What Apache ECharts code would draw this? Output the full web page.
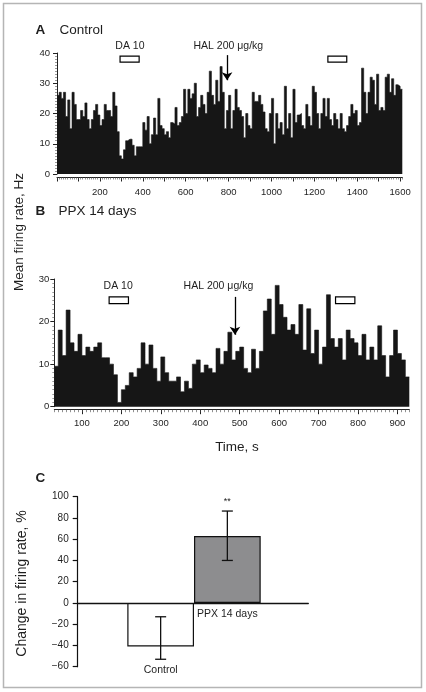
<!DOCTYPE html>
<html><head><meta charset="utf-8">
<script src="https://cdn.jsdelivr.net/npm/echarts@6/dist/echarts.min.js"></script>
<style>html,body{margin:0;padding:0;background:#fff}#c{width:426px;height:692px}</style>
</head><body><div id="c"></div>
<script>
// ---------- Panel A: Control (10 s bins) ----------
const timesA = [
0,10,20,30,40,50,60,70,80,90,
100,110,120,130,140,150,160,170,180,190,
200,210,220,230,240,250,260,270,280,290,
300,310,320,330,340,350,360,370,380,390,
400,410,420,430,440,450,460,470,480,490,
500,510,520,530,540,550,560,570,580,590,
600,610,620,630,640,650,660,670,680,690,
700,710,720,730,740,750,760,770,780,790,
800,810,820,830,840,850,860,870,880,890,
900,910,920,930,940,950,960,970,980,990,
1000,1010,1020,1030,1040,1050,1060,1070,1080,1090,
1100,1110,1120,1130,1140,1150,1160,1170,1180,1190,
1200,1210,1220,1230,1240,1250,1260,1270,1280,1290,
1300,1310,1320,1330,1340,1350,1360,1370,1380,1390,
1400,1410,1420,1430,1440,1450,1460,1470,1480,1490,
1500,1510,1520,1530,1540,1550,1560,1570,1580,1590,
1600];
const valuesA = [
26,27,25,27,19,24.5,15,27,23,18,
18,21,19,23.5,18,15,18,21,23,19.5,
16,18,23,21,21,19,27,22.5,14,6,
5,8,11,11.5,11.5,9.5,6,9,9,9,
17,14.5,19,10,13,18.5,13,25,16,15,
13,14,12,17,16.5,22,16,17,19,28,
20,28,25,26.5,30,19,22,26,23,20,
27,34,26,23,31,24,35.5,27,15,21,
26,15,21,28,22,21,19,12,20,16,
15,27,24,24,26,23,20.5,15,14,20,
25,10,20,15,17,13,29,15,20,12,
28,17,19.5,20,16,15,23,19,16,29,
27,20,15,20,25,19,25,18,16,20,
18,15,20,15,14,16,19,23,20,21,
16,17,35,27,20,27,32,31,23,33,
21,22,21,32,33,27,31.5,26,29.5,29,
28];
const tickMarksA = [0,100,200,300,400,500,600,700,800,900,1000,1100,1200,1300,1400,1500,1600];
const tickLabelsA = [200,400,600,800,1000,1200,1400,1600];

// ---------- Panel B: PPX 14 days (10 s bins) ----------
const timesB = [
30,40,50,60,70,80,90,100,110,120,
130,140,150,160,170,180,190,200,210,220,
230,240,250,260,270,280,290,300,310,320,
330,340,350,360,370,380,390,400,410,420,
430,440,450,460,470,480,490,500,510,520,
530,540,550,560,570,580,590,600,610,620,
630,640,650,660,670,680,690,700,710,720,
730,740,750,760,770,780,790,800,810,820,
830,840,850,860,870,880,890,900,910,920];
const valuesB = [
9.5,18,12,22.7,15,13,17,12,14,13,
14,15,11.5,11.5,10,7.5,1,4,5,8,
7,9,15,10,14.5,9,6,11.7,8,6,
6,7,3.5,6,4.3,10,11,8,9.8,9,
8,13.7,10,13,17.5,11,13,14,9,8,
13.5,9,13,22.5,25.3,17,28.5,24,21,18,
19.3,17,24,13.3,23,12.5,18,10,14,26.3,
16,14,16,11,18,16,15,12,17,11,
14,11,19,12,7,12,18,12.5,11,7];
const tickLabelsB = [100,200,300,400,500,600,700,800,900];

// ---------- Panel C ----------
const groupsC = ['Control', 'PPX 14 days'];
const meansC = [-41, 63];
const errLowC = [-53, 40];
const errHighC = [-13, 86.5];
const sigC = ['', '**'];

// event annotations (seconds)
const daA = [[294, 383], [1263, 1351]];
const halA = 793;
const daB = [[169, 218], [743, 792]];
const halB = 488;

const FONT = '"Liberation Sans", Arial, Helvetica, sans-serif';
const INK = '#161616';
const TXT = '#1e1e1e';

function stepData(times, vals) {
  const d = times.map((t, i) => [t, vals[i]]);
  const w = times[1] - times[0];
  d.push([times[times.length - 1] + w, vals[vals.length - 1]]);
  return d;
}
function edges(times) {
  const w = times[1] - times[0];
  return times.concat([times[times.length - 1] + w]);
}
const txt = (extra) => Object.assign({fontFamily: FONT, color: TXT}, extra);

function histSeries(xi, yi, data, boxes, hal, boxY, arrowY) {
  return {
    type: 'line', xAxisIndex: xi, yAxisIndex: yi, step: 'end', data: data,
    symbol: 'none', clip: false, silent: true,
    lineStyle: {color: INK, width: 0.6},
    areaStyle: {color: INK, opacity: 1},
    markArea: {
      silent: true, label: {show: false},
      itemStyle: {color: '#fff', borderColor: '#000', borderWidth: 1.2},
      data: boxes.map(b => [{coord: [b[0], boxY[0]]}, {coord: [b[1], boxY[1]]}])
    },
    markLine: {
      silent: true, symbol: ['none', 'arrow'], symbolSize: 8,
      label: {show: false},
      lineStyle: {color: '#000', width: 1.3, type: 'solid'},
      data: [[{coord: [hal, arrowY[0]]}, {coord: [hal, arrowY[1]]}]]
    }
  };
}

const chart = echarts.init(document.getElementById('c'), null, {renderer: 'canvas'});
const axisLineStyle = {color: '#222', width: 1};

const option = {
  animation: false,
  backgroundColor: '#fff',
  grid: [
    {left: 57, top: 53, width: 345.3, height: 121},
    {left: 54.3, top: 279, width: 355, height: 127.7},
    {left: 77.7, top: 496.7, width: 230.6, height: 170},
    {left: 127.3, top: 496.7, width: 133.4, height: 170}
  ],
  xAxis: [
    {gridIndex: 0, type: 'value', position: 'bottom', min: 0, max: 1610, offset: 3,
     axisLine: {show: true, onZero: false, lineStyle: axisLineStyle},
     axisTick: {show: true, customValues: tickMarksA, length: 4.5, lineStyle: axisLineStyle},
     axisLabel: txt({customValues: tickLabelsA, fontSize: 9.5, margin: 10, formatter: v => String(v)}),
     splitLine: {show: false}},
    {gridIndex: 0, type: 'value', position: 'bottom', min: 0, max: 1610, offset: 3,
     axisLine: {show: false, onZero: false},
     axisTick: {show: true, customValues: edges(timesA), length: 2.5, lineStyle: {color: '#444', width: 0.6}},
     axisLabel: {show: false}, splitLine: {show: false}},
    {gridIndex: 1, type: 'value', position: 'bottom', min: 30, max: 930, offset: 3,
     axisLine: {show: true, onZero: false, lineStyle: axisLineStyle},
     axisTick: {show: true, customValues: tickLabelsB, length: 4.5, lineStyle: axisLineStyle},
     axisLabel: txt({customValues: tickLabelsB, fontSize: 9.5, margin: 9, formatter: v => String(v)}),
     splitLine: {show: false}},
    {gridIndex: 1, type: 'value', position: 'bottom', min: 30, max: 930, offset: 3,
     axisLine: {show: false, onZero: false},
     axisTick: {show: true, customValues: edges(timesB), length: 2.5, lineStyle: {color: '#444', width: 0.6}},
     axisLabel: {show: false}, splitLine: {show: false}},
    {gridIndex: 2, type: 'value', position: 'bottom', min: 0, max: 1,
     axisLine: {show: true, onZero: true, lineStyle: {color: '#111', width: 1.3}},
     axisTick: {show: false}, axisLabel: {show: false}, splitLine: {show: false}},
    {gridIndex: 3, type: 'category', data: groupsC, show: false}
  ],
  yAxis: [
    {gridIndex: 0, type: 'value', min: 0, max: 40, interval: 10,
     axisLine: {show: true, lineStyle: axisLineStyle},
     axisTick: {show: true, length: 4, lineStyle: axisLineStyle},
     minorTick: {show: true, splitNumber: 10, length: 2, lineStyle: {color: '#555', width: 0.6}},
     axisLabel: txt({fontSize: 9.5, margin: 7}),
     splitLine: {show: false}, minorSplitLine: {show: false}},
    {gridIndex: 1, type: 'value', min: 0, max: 30, interval: 10,
     axisLine: {show: true, lineStyle: axisLineStyle},
     axisTick: {show: true, length: 4, lineStyle: axisLineStyle},
     minorTick: {show: true, splitNumber: 10, length: 2, lineStyle: {color: '#555', width: 0.6}},
     axisLabel: txt({fontSize: 9.5, margin: 5}),
     splitLine: {show: false}, minorSplitLine: {show: false}},
    {gridIndex: 2, type: 'value', min: -60, max: 100, interval: 20,
     axisLine: {show: true, onZero: false, lineStyle: {color: '#111', width: 1.2}},
     axisTick: {show: true, length: 5, lineStyle: {color: '#111', width: 1.2}},
     axisLabel: txt({fontSize: 10, margin: 9, formatter: v => v < 0 ? '\u2212' + Math.abs(v) : String(v)}),
     splitLine: {show: false}},
    {gridIndex: 3, type: 'value', min: -60, max: 100, show: false, splitLine: {show: false}}
  ],
  series: [
    histSeries(0, 0, stepData(timesA, valuesA), daA, halA, [37, 39], [39.3, 31]),
    histSeries(2, 1, stepData(timesB, valuesB), daB, halB, [24.2, 25.8], [25.8, 16.9]),
    {
      type: 'bar', xAxisIndex: 5, yAxisIndex: 3, barCategoryGap: '0%', barGap: '0%',
      silent: true, z: 2,
      itemStyle: {borderColor: '#111', borderWidth: 1.2},
      data: meansC.map((v, i) => ({
        name: groupsC[i], value: v,
        itemStyle: {color: i === 0 ? '#ffffff' : '#8d8d8f'},
        label: txt({show: true, position: 'bottom', distance: i === 0 ? 18 : 6, fontSize: 10.5, formatter: '{b}'})
      }))
    },
    {
      type: 'custom', xAxisIndex: 5, yAxisIndex: 3, silent: true, z: 5,
      data: groupsC.map((g, i) => [i, errLowC[i], errHighC[i]]),
      renderItem: function (params, api) {
        const i = api.value(0);
        const lo = api.coord([i, api.value(1)]);
        const hi = api.coord([i, api.value(2)]);
        const x = lo[0], hw = 5.5;
        const st = {stroke: '#111', lineWidth: 1.3};
        const children = [
          {type: 'line', shape: {x1: x, y1: lo[1], x2: x, y2: hi[1]}, style: st},
          {type: 'line', shape: {x1: x - hw, y1: lo[1], x2: x + hw, y2: lo[1]}, style: st},
          {type: 'line', shape: {x1: x - hw, y1: hi[1], x2: x + hw, y2: hi[1]}, style: st}
        ];
        const s = sigC[params.dataIndex];
        if (s) children.push({type: 'text', x: x, y: hi[1] - 10,
          style: {text: s, align: 'center', verticalAlign: 'middle', fontSize: 9, fontFamily: FONT, fill: '#222'}});
        return {type: 'group', children: children};
      }
    }
  ],
  graphic: [
    {type: 'rect', shape: {x: 3.5, y: 3.5, width: 418, height: 684},
     style: {fill: 'none', stroke: '#b5b5b5', lineWidth: 1.5}, silent: true},
    {type: 'text', x: 35.5, y: 30, style: {text: 'A', fontSize: 13.5, fontWeight: 'bold', fontFamily: FONT, fill: TXT, verticalAlign: 'middle'}},
    {type: 'text', x: 59.5, y: 30, style: {text: 'Control', fontSize: 13.5, fontFamily: FONT, fill: TXT, verticalAlign: 'middle'}},
    {type: 'text', x: 35.5, y: 211, style: {text: 'B', fontSize: 13.5, fontWeight: 'bold', fontFamily: FONT, fill: TXT, verticalAlign: 'middle'}},
    {type: 'text', x: 58.5, y: 211, style: {text: 'PPX 14 days', fontSize: 13.5, fontFamily: FONT, fill: TXT, verticalAlign: 'middle'}},
    {type: 'text', x: 35.5, y: 478, style: {text: 'C', fontSize: 13.5, fontWeight: 'bold', fontFamily: FONT, fill: TXT, verticalAlign: 'middle'}},
    {type: 'text', x: 19, y: 232, rotation: Math.PI / 2,
     style: {text: 'Mean firing rate, Hz', fontSize: 13.5, fontFamily: FONT, fill: TXT, align: 'center', verticalAlign: 'middle'}},
    {type: 'text', x: 237, y: 447,
     style: {text: 'Time, s', fontSize: 13.5, fontFamily: FONT, fill: TXT, align: 'center', verticalAlign: 'middle'}},
    {type: 'text', x: 21.7, y: 583.5, rotation: Math.PI / 2,
     style: {text: 'Change in firing rate, %', fontSize: 14, fontFamily: FONT, fill: TXT, align: 'center', verticalAlign: 'middle'}}
  ]
};
chart.setOption(option);

// Event labels placed through the axes' own scales
const annotations = [
  {grid: 0, coord: [340, 42.2], text: 'DA 10'},
  {grid: 0, coord: [799, 42.2], text: 'HAL 200 \u03bcg/kg'},
  {grid: 1, coord: [192, 28.3], text: 'DA 10'},
  {grid: 1, coord: [446, 28.3], text: 'HAL 200 \u03bcg/kg'}
];
const extra = annotations.map(a => {
  const p = chart.convertToPixel({gridIndex: a.grid}, a.coord);
  return {type: 'text', x: p[0], y: p[1], silent: true,
    style: {text: a.text, fontSize: 10.5, fontFamily: FONT, fill: TXT, align: 'center', verticalAlign: 'middle'}};
});
chart.setOption({graphic: option.graphic.concat(extra)});
</script>
</body></html>
